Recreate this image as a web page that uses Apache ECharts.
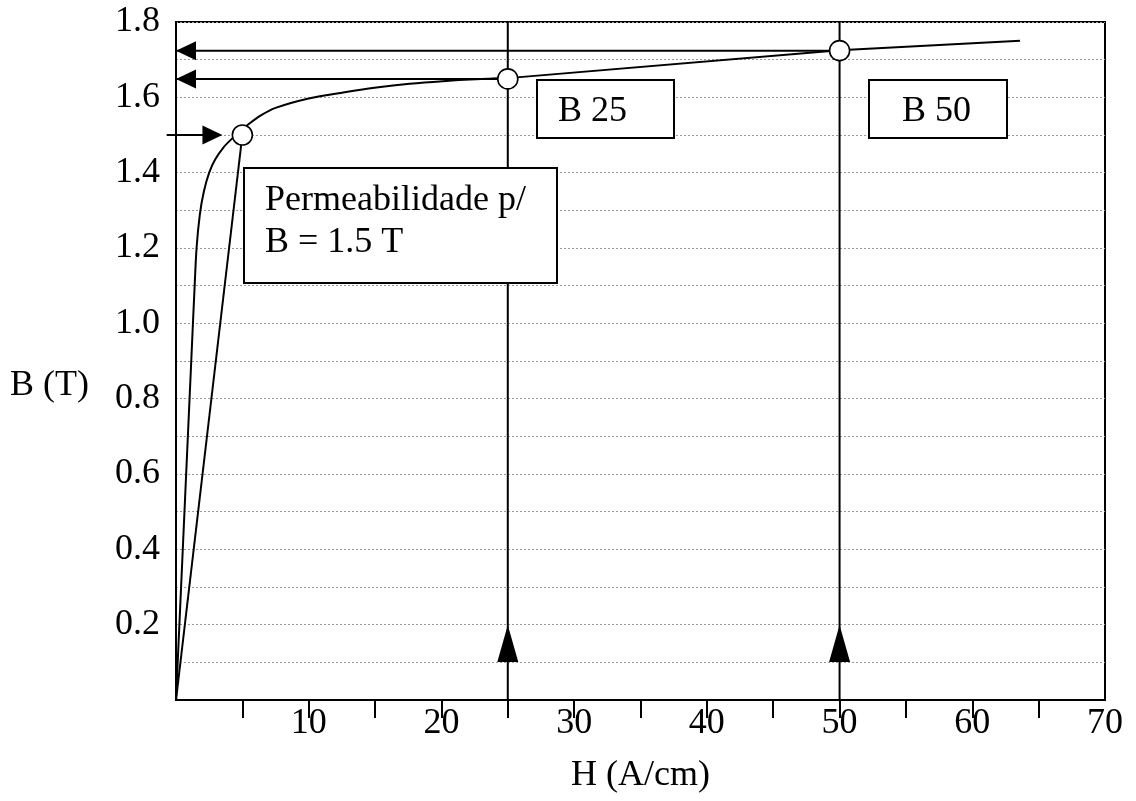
<!DOCTYPE html>
<html>
<head>
<meta charset="utf-8">
<script src="https://cdn.jsdelivr.net/npm/echarts@6/dist/echarts.min.js"></script>
<style>
  html, body { margin: 0; padding: 0; background: #fff; }
  #main { width: 1136px; height: 801px; }
</style>
</head>
<body>
<div id="main"></div>
<script>
// magnetisation curve B(H)
var curveH = [0, 1.2, 1.38, 1.55, 1.8, 2.1, 2.5, 2.95, 3.6, 4.3, 5.0, 5.3, 6.3, 7.5, 10.0, 12.6, 15.1, 17.6, 20.1, 22.6, 25];
var curveB = [0, 0.94, 1.08, 1.20, 1.29, 1.35, 1.40, 1.435, 1.468, 1.493, 1.515, 1.524, 1.55, 1.572, 1.597, 1.613, 1.626, 1.636, 1.643, 1.648, 1.651];
// straight upper part
var tailH = [25, 50, 63.6];
var tailB = [1.651, 1.725, 1.75];
// permeability line through B = 1.5 T
var permH = [0, 5];
var permB = [0, 1.5];
// marked points
var markH = [5, 25, 50];
var markB = [1.5, 1.649, 1.724];
// vertical guides at H = 25 and 50
var guideH = [25, 50];
// incoming arrow at B = 1.5
var inArrowH = [-0.7, 3.5];
var xTicks = [5, 10, 15, 20, 25, 30, 35, 40, 45, 50, 55, 60, 65];
var xTickLabels = [10, 20, 30, 40, 50, 60, 70];
var yTickLabels = [0.2, 0.4, 0.6, 0.8, 1.0, 1.2, 1.4, 1.6, 1.8];

var FONT = '"Liberation Serif", "Times New Roman", serif';

function zip(a, b) {
    var out = [];
    for (var i = 0; i < a.length; i++) out.push([a[i], b[i]]);
    return out;
}

var blackLine = { color: '#000', width: 2 };

var series = [
    {
        type: 'line', data: zip(curveH, curveB), smooth: 0.3,
        showSymbol: false, lineStyle: blackLine, z: 3, animation: false
    },
    {
        type: 'line', data: zip(tailH, tailB), showSymbol: false, lineStyle: blackLine, z: 3, animation: false
    },
    {
        type: 'line', data: zip(permH, permB), showSymbol: false, lineStyle: blackLine, z: 3, animation: false
    }
];

var heads = [];
heads.push({ value: [inArrowH[1], markB[0]], symbolRotate: -90, symbolSize: [19, 20], symbolOffset: [-10, 0] });

for (var g = 0; g < guideH.length; g++) {
    var h = guideH[g];
    var b = markB[g + 1];
    // vertical line
    series.push({
        type: 'line', data: [[h, 0], [h, 1.8]], showSymbol: false, lineStyle: blackLine, z: 2, animation: false
    });
    // horizontal read-off line to the B axis
    series.push({
        type: 'line', data: [[h, b], [0, b]], showSymbol: false, lineStyle: blackLine, z: 2, animation: false
    });
    heads.push({ value: [0, b], symbolRotate: 90, symbolSize: [19, 20], symbolOffset: [10, 0] });
    heads.push({ value: [h, 0.15], symbolRotate: 0, symbolSize: [21, 37] });
}

series.push({
    type: 'scatter', data: heads, symbol: 'triangle', clip: false,
    itemStyle: { color: '#000', opacity: 1 }, z: 6, animation: false
});

series.push({
    type: 'scatter', data: zip(markH, markB), symbol: 'circle', symbolSize: 20,
    itemStyle: { color: '#fff', borderColor: '#000', borderWidth: 1.6, opacity: 1 }, z: 10, animation: false
});

var graphics = [
    {
        type: 'text', left: 10, top: 368, z: 100,
        style: { text: 'B (T)', font: '36px ' + FONT, fill: '#000' }
    },
    { type: 'rect', shape: { x: 244, y: 168, width: 313, height: 115 },
      style: { fill: '#fff', stroke: '#000', lineWidth: 2 }, z: 100 },
    { type: 'text', x: 265, y: 201, z: 101,
      style: { text: 'Permeabilidade p/', font: '36px ' + FONT, fill: '#000', verticalAlign: 'middle' } },
    { type: 'text', x: 265, y: 243, z: 101,
      style: { text: 'B = 1.5 T', font: '36px ' + FONT, fill: '#000', verticalAlign: 'middle' } },
    { type: 'rect', shape: { x: 537, y: 80, width: 137, height: 58 },
      style: { fill: '#fff', stroke: '#000', lineWidth: 2 }, z: 100 },
    { type: 'text', x: 558, y: 112, z: 101,
      style: { text: 'B 25', font: '36px ' + FONT, fill: '#000', verticalAlign: 'middle' } },
    { type: 'rect', shape: { x: 869, y: 80, width: 138, height: 58 },
      style: { fill: '#fff', stroke: '#000', lineWidth: 2 }, z: 100 },
    { type: 'text', x: 902, y: 112, z: 101,
      style: { text: 'B 50', font: '36px ' + FONT, fill: '#000', verticalAlign: 'middle' } }
];

var myChart = echarts.init(document.getElementById('main'));

var option = {
    backgroundColor: '#fff',
    animation: false,
    grid: {
        left: 176, right: 31, top: 22, bottom: 101,
        show: true, borderColor: '#000', borderWidth: 2, backgroundColor: 'transparent'
    },
    xAxis: {
        type: 'value', min: 0, max: 70, interval: 5,
        name: 'H (A/cm)', nameLocation: 'middle', nameGap: 58,
        nameTextStyle: { fontFamily: FONT, fontSize: 36, color: '#000' },
        axisLine: { show: true, lineStyle: { color: '#000', width: 2 } },
        axisTick: { show: true, length: 18, customValues: xTicks, lineStyle: { color: '#000', width: 2 } },
        axisLabel: {
            margin: 6, fontFamily: FONT, fontSize: 36, color: '#000',
            formatter: function (v) { return xTickLabels.indexOf(Math.round(v)) >= 0 ? String(Math.round(v)) : ''; }
        },
        splitLine: { show: false }
    },
    yAxis: {
        type: 'value', min: 0, max: 1.8, interval: 0.1,
        axisLine: { show: true, lineStyle: { color: '#000', width: 2 } },
        axisTick: { show: false },
        axisLabel: {
            margin: 16, fontFamily: FONT, fontSize: 36, color: '#000',
            formatter: function (v) {
                var r = Math.round(v * 10) / 10;
                return yTickLabels.indexOf(r) >= 0 ? r.toFixed(1) : '';
            }
        },
        splitLine: { show: true, lineStyle: { color: '#999', width: 1, type: [2, 2] } }
    },
    graphic: graphics,
    series: series
};

myChart.setOption(option);

// incoming arrow starts left of the axis, so draw its shaft from the chart's own scale
var p0 = myChart.convertToPixel({ gridIndex: 0 }, [inArrowH[0], markB[0]]);
var p1 = myChart.convertToPixel({ gridIndex: 0 }, [inArrowH[1], markB[0]]);
graphics.push({
    type: 'line', z: 5,
    shape: { x1: p0[0], y1: p0[1], x2: p1[0] - 10, y2: p1[1] },
    style: { stroke: '#000', lineWidth: 2 }
});
option.graphic = graphics;
myChart.setOption(option, true);
</script>
</body>
</html>
